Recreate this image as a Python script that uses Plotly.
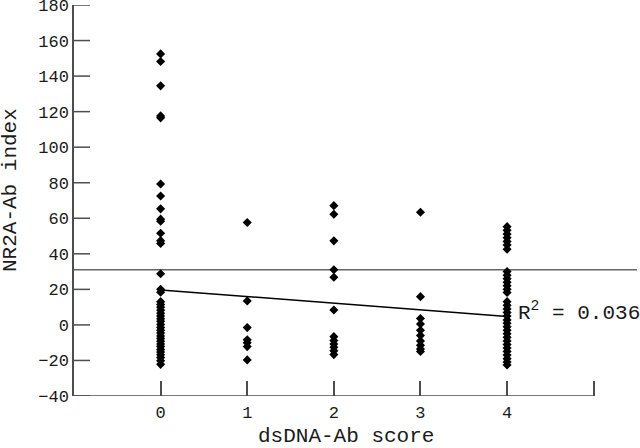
import plotly.graph_objects as go

# dsDNA-Ab score categories and NR2A-Ab index values
score_0 = [152.5, 148.2, 134.5, 117.6, 116.5, 79.3, 72.5, 65.3, 59.5, 58.3, 51.6, 47.4, 45.8,
           28.8, 20.1, 18.4, 13.1, 11.5, 10, 8.3, 6.6, 5, 3.5, 2, 0.2, -1.5, -3, -4.6, -6.2,
           -7.7, -9.2, -10.7, -12.2, -13.8, -15.3, -16.8, -18.4, -20.2, -22.2]
score_1 = [57.6, 13.5, -1.5, -8.4, -10, -12.2, -19.7]
score_2 = [67.1, 62.3, 47.3, 31, 26.8, 8.4, -6.6, -8.8, -10.7, -12.6, -14.6, -16.7]
score_3 = [63.4, 15.9, 3.6, 0.5, -3, -6, -9, -11.5, -13.5, -15]
score_4 = [55.3, 53.2, 51.1, 49, 47, 45, 42.6, 30, 28, 26, 24, 22, 20, 18.2, 13.1, 11, 9,
           7, 5, 2.8, 1, -1, -3, -5, -7, -9, -11, -13, -15, -17, -19, -20.8, -22.5]

groups = [score_0, score_1, score_2, score_3, score_4]

# regression line endpoints and cut-off
fit_x = [0, 4]
fit_y = [19.7, 4.7]
cutoff = 31
r2_label = "R<sup>2</sup> = 0.036"

x_ticks = [0, 1, 2, 3, 4, 5]
x_ticktext = ["0", "1", "2", "3", "4", ""]
y_ticks = [-40, -20, 0, 20, 40, 60, 80, 100, 120, 140, 160, 180]

FONT = "Liberation Mono, Courier New, monospace"
AXIS_COLOR = "#4d4d4d"
TXT = "#1a1a1a"

W, H = 640, 448
ML, MR, MT, MB = 74, 3, 5, 52
pw, ph = W - ML - MR, H - MT - MB


def px_to_paper(px, py):
    # posição em pixels da figura -> coordenadas paper
    return (px - ML) / pw, (H - MB - py) / ph


xs, ys = [], []
for score, vals in enumerate(groups):
    xs += [score] * len(vals)
    ys += vals

fig = go.Figure()

fig.add_trace(go.Scatter(
    x=xs, y=ys, mode="markers",
    marker=dict(symbol="diamond", size=7, color="black", line=dict(width=0)),
    showlegend=False, cliponaxis=False,
))

fig.add_trace(go.Scatter(
    x=fit_x, y=fit_y, mode="lines",
    line=dict(color="black", width=1.5),
    showlegend=False,
))

# linha de corte horizontal
fig.add_shape(type="line", xref="paper", x0=0, x1=1, yref="y", y0=cutoff, y1=cutoff,
              line=dict(color="#666666", width=1.5), layer="below")

# eixo x só vai até 5
fig.add_shape(type="line", xref="x", x0=-1, x1=5, yref="y", y0=-40, y1=-40,
              line=dict(color=AXIS_COLOR, width=1.5))

# marcas do eixo y (para dentro, ~16 px)
for v in y_ticks:
    fig.add_shape(type="line", xref="paper", x0=0, x1=16 / pw, yref="y", y0=v, y1=v,
                  line=dict(color=AXIS_COLOR, width=1.5))

fig.add_annotation(x=4.1, y=fit_y[1] + 3, xref="x", yref="y", text=r2_label,
                   showarrow=False, xanchor="left", yanchor="middle",
                   font=dict(family=FONT, size=21, color=TXT))

tx, ty = px_to_paper(346, 437)
fig.add_annotation(x=tx, y=ty, xref="paper", yref="paper", text="dsDNA-Ab score",
                   showarrow=False, xanchor="center", yanchor="middle",
                   font=dict(family=FONT, size=21, color=TXT))

tx, ty = px_to_paper(10, 190)
fig.add_annotation(x=tx, y=ty, xref="paper", yref="paper",
                   text="NR2A-Ab index", textangle=-90, showarrow=False,
                   xanchor="center", yanchor="middle",
                   font=dict(family=FONT, size=21, color=TXT))

fig.update_layout(
    width=W, height=H,
    margin=dict(l=ML, r=MR, t=MT, b=MB, autoexpand=False),
    paper_bgcolor="white", plot_bgcolor="white",
    font=dict(family=FONT, color=TXT),
    xaxis=dict(
        range=[-1, 5.5], tickvals=x_ticks, ticktext=x_ticktext,
        showgrid=False, zeroline=False, showline=False,
        ticks="inside", ticklen=15, tickwidth=1.5, tickcolor=AXIS_COLOR,
        tickfont=dict(family=FONT, size=17, color=TXT),
        ticklabelstandoff=4, automargin=False,
    ),
    yaxis=dict(
        range=[-40, 180], tickvals=y_ticks, ticksuffix=" ",
        showgrid=False, zeroline=False, showline=True,
        linecolor=AXIS_COLOR, linewidth=1.5, ticks="",
        tickfont=dict(family=FONT, size=17, color=TXT),
        ticklabeloverflow="allow", automargin=False,
    ),
)

# tira a margem padrão do body para a figura ficar no canto
fig.write_html("out.html", config={"displayModeBar": False},
               post_script="document.body.style.margin='0';")
